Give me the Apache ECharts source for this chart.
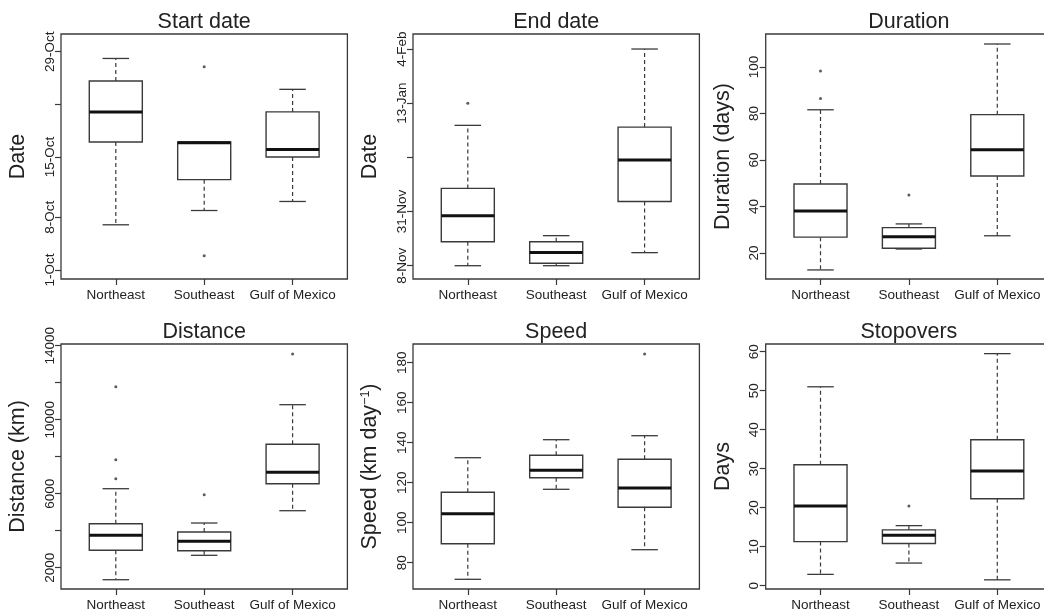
<!DOCTYPE html>
<html>
<head>
<meta charset="utf-8">
<script src="https://cdn.jsdelivr.net/npm/echarts@6/dist/echarts.min.js"></script>
<style>
html,body{margin:0;padding:0;background:#fff;}
#chart{width:1044px;height:614px;}
</style>
</head>
<body>
<div id="chart"></div>
<script>
// ---------- DATA ----------
const categories = ['Northeast', 'Southeast', 'Gulf of Mexico'];

// boxes: [low whisker, Q1, median, Q3, high whisker] per category
// Start date (days after 1-Oct)
const startBoxes = [[6.0, 17.0, 21.0, 25.1, 28.1], [7.9, 12.0, 16.9, 17.0, 17.0], [9.1, 15.0, 16.0, 21.0, 24.0]];
const startOutliers = [[1, 27.0], [1, 1.9]];
const startTicks = [0, 7, 15, 22, 29];
const startTickLabels = ['1-Oct', '8-Oct', '15-Oct', '', '29-Oct'];

// End date (days after 8-Nov)
const endBoxes = [[0, 9.7, 20.3, 31.4, 57.0], [0, 1.0, 5.4, 9.7, 12.2], [5.3, 26.1, 42.9, 56.3, 88.0]];
const endOutliers = [[0, 66.0]];
const endTicks = [0, 22, 44, 66, 88];
const endTickLabels = ['8-Nov', '31-Nov', '', '13-Jan', '4-Feb'];

// Duration (days)
const durationBoxes = [[12.7, 26.8, 38.1, 49.7, 81.6], [21.7, 22.0, 27.0, 30.9, 32.5], [27.4, 53.1, 64.4, 79.5, 109.9]];
const durationOutliers = [[0, 98.3], [0, 86.5], [1, 44.9]];
const durationTicks = [20, 40, 60, 80, 100];
const durationTickLabels = ['20', '40', '60', '80', '100'];

// Distance (km)
const distanceBoxes = [[1351, 2941, 3751, 4378, 6270], [2670, 2919, 3427, 3930, 4416], [5081, 6541, 7157, 8670, 10811]];
const distanceOutliers = [[0, 11784], [0, 7838], [0, 6811], [1, 5946], [2, 13551]];
const distanceTicks = [2000, 4000, 6000, 8000, 10000, 12000, 14000];
const distanceTickLabels = ['2000', '', '6000', '', '10000', '', '14000'];

// Speed (km/day)
const speedBoxes = [[71.7, 89.5, 104.5, 115.2, 132.5], [116.7, 122.5, 126.2, 133.7, 141.5], [86.5, 107.7, 117.3, 131.7, 143.5]];
const speedOutliers = [[2, 184.3]];
const speedTicks = [80, 100, 120, 140, 160, 180];
const speedTickLabels = ['80', '100', '120', '140', '160', '180'];

// Stopovers (days)
const stopBoxes = [[2.9, 11.3, 20.4, 31.0, 51.0], [5.8, 10.8, 12.9, 14.3, 15.4], [1.5, 22.3, 29.4, 37.4, 59.5]];
const stopOutliers = [[1, 20.4]];
const stopTicks = [0, 10, 20, 30, 40, 50, 60];
const stopTickLabels = ['0', '10', '20', '30', '40', '50', '60'];

// ---------- LAYOUT / STYLE ----------
const FONT = '"Liberation Sans", Arial, Helvetica, sans-serif';
const TEXT = '#222';
const LINE = '#3a3a3a';
const frameLefts = [61, 413, 765.7];
const frameTops = [34, 344];
const frameW = 286.4, frameH = 245;

const panels = [
  {title: 'Start date', yName: 'Date', boxes: startBoxes, outliers: startOutliers, ticks: startTicks, labels: startTickLabels, min: -1.2, max: 31.35},
  {title: 'End date', yName: 'Date', boxes: endBoxes, outliers: endOutliers, ticks: endTicks, labels: endTickLabels, min: -5.4, max: 94.1},
  {title: 'Duration', yName: 'Duration (days)', boxes: durationBoxes, outliers: durationOutliers, ticks: durationTicks, labels: durationTickLabels, min: 8.8, max: 114.2},
  {title: 'Distance', yName: 'Distance (km)', boxes: distanceBoxes, outliers: distanceOutliers, ticks: distanceTicks, labels: distanceTickLabels, min: 849, max: 14092},
  {title: 'Speed', yName: 'Speed (km day{sup|\u22121})', boxes: speedBoxes, outliers: speedOutliers, ticks: speedTicks, labels: speedTickLabels, min: 66.85, max: 189.35},
  {title: 'Stopovers', yName: 'Days', boxes: stopBoxes, outliers: stopOutliers, ticks: stopTicks, labels: stopTickLabels, min: -0.85, max: 61.97}
];

function renderBox(params, api) {
  const x = api.value(0);
  const low = api.coord([x, api.value(1)]);
  const q1 = api.coord([x, api.value(2)]);
  const med = api.coord([x, api.value(3)]);
  const q3 = api.coord([x, api.value(4)]);
  const high = api.coord([x, api.value(5)]);
  const band = api.size([1, 0])[0];
  const half = band * 0.3;
  const st = band * 0.15;
  const cx = q1[0];
  const dash = {stroke: LINE, lineWidth: 1.2, lineDash: [4, 3], fill: null};
  const solid = {stroke: LINE, lineWidth: 1.3, fill: null};
  return {
    type: 'group',
    children: [
      {type: 'line', shape: {x1: cx, y1: q3[1], x2: cx, y2: high[1]}, style: dash},
      {type: 'line', shape: {x1: cx, y1: q1[1], x2: cx, y2: low[1]}, style: dash},
      {type: 'line', shape: {x1: cx - st, y1: high[1], x2: cx + st, y2: high[1]}, style: solid},
      {type: 'line', shape: {x1: cx - st, y1: low[1], x2: cx + st, y2: low[1]}, style: solid},
      {type: 'rect', shape: {x: cx - half, y: q3[1], width: half * 2, height: q1[1] - q3[1]},
        style: {fill: '#fff', stroke: LINE, lineWidth: 1.4}},
      {type: 'line', shape: {x1: cx - half, y1: med[1], x2: cx + half, y2: med[1]},
        style: {stroke: '#111', lineWidth: 3}}
    ]
  };
}

const option = {
  animation: false,
  backgroundColor: '#fff',
  textStyle: {fontFamily: FONT},
  title: [], grid: [], xAxis: [], yAxis: [], series: []
};

panels.forEach((p, i) => {
  const col = i % 3, row = Math.floor(i / 3);
  const left = frameLefts[col], top = frameTops[row];
  option.title.push({
    text: p.title, left: left + frameW / 2, top: top - 23, textAlign: 'center', padding: 0,
    textStyle: {fontFamily: FONT, fontSize: 21.5, fontWeight: 'normal', color: TEXT}
  });
  option.grid.push({
    left: left, top: top, width: frameW, height: frameH,
    show: true, borderColor: LINE, borderWidth: 1.3, backgroundColor: 'transparent',
    containLabel: false, outerBoundsMode: 'none'
  });
  const labelVals = p.ticks.filter((t, k) => p.labels[k] !== '');
  option.xAxis.push({
    type: 'value', gridIndex: i, min: -0.62, max: 2.62, position: 'bottom',
    axisLine: {show: false, onZero: false}, splitLine: {show: false},
    axisTick: {show: true, length: 6, lineStyle: {color: LINE, width: 1.2}, customValues: [0, 1, 2]},
    axisLabel: {
      show: true, margin: 9, fontSize: 13.5, color: TEXT, fontFamily: FONT,
      customValues: [0, 1, 2], formatter: v => categories[Math.round(v)]
    }
  });
  option.yAxis.push({
    type: 'value', gridIndex: i, min: p.min, max: p.max, position: 'left',
    name: p.yName, nameLocation: 'middle', nameRotate: 90, nameGap: 32,
    nameTextStyle: {fontSize: 21.5, color: TEXT, fontFamily: FONT,
      rich: {sup: {fontSize: 12.5, color: TEXT, fontFamily: FONT, verticalAlign: 'top', lineHeight: 20}}},
    axisLine: {show: false, onZero: false}, splitLine: {show: false},
    axisTick: {show: true, length: 6, lineStyle: {color: LINE, width: 1.2}, customValues: p.ticks},
    axisLabel: {
      show: true, rotate: 90, margin: 4, fontSize: 13.5, color: TEXT, fontFamily: FONT,
      customValues: labelVals,
      formatter: v => { const k = p.ticks.indexOf(v); return k >= 0 ? p.labels[k] : ''; }
    }
  });
  option.series.push({
    type: 'custom', xAxisIndex: i, yAxisIndex: i,
    renderItem: renderBox,
    encode: {x: 0, y: [1, 2, 3, 4, 5]},
    data: p.boxes.map((b, k) => [k].concat(b)),
    z: 3
  });
  option.series.push({
    type: 'scatter', xAxisIndex: i, yAxisIndex: i,
    symbol: 'circle', symbolSize: 3,
    itemStyle: {color: '#333'},
    data: p.outliers,
    z: 4
  });
});

const chart = echarts.init(document.getElementById('chart'), null, {renderer: 'canvas'});
chart.setOption(option);
</script>
</body>
</html>
